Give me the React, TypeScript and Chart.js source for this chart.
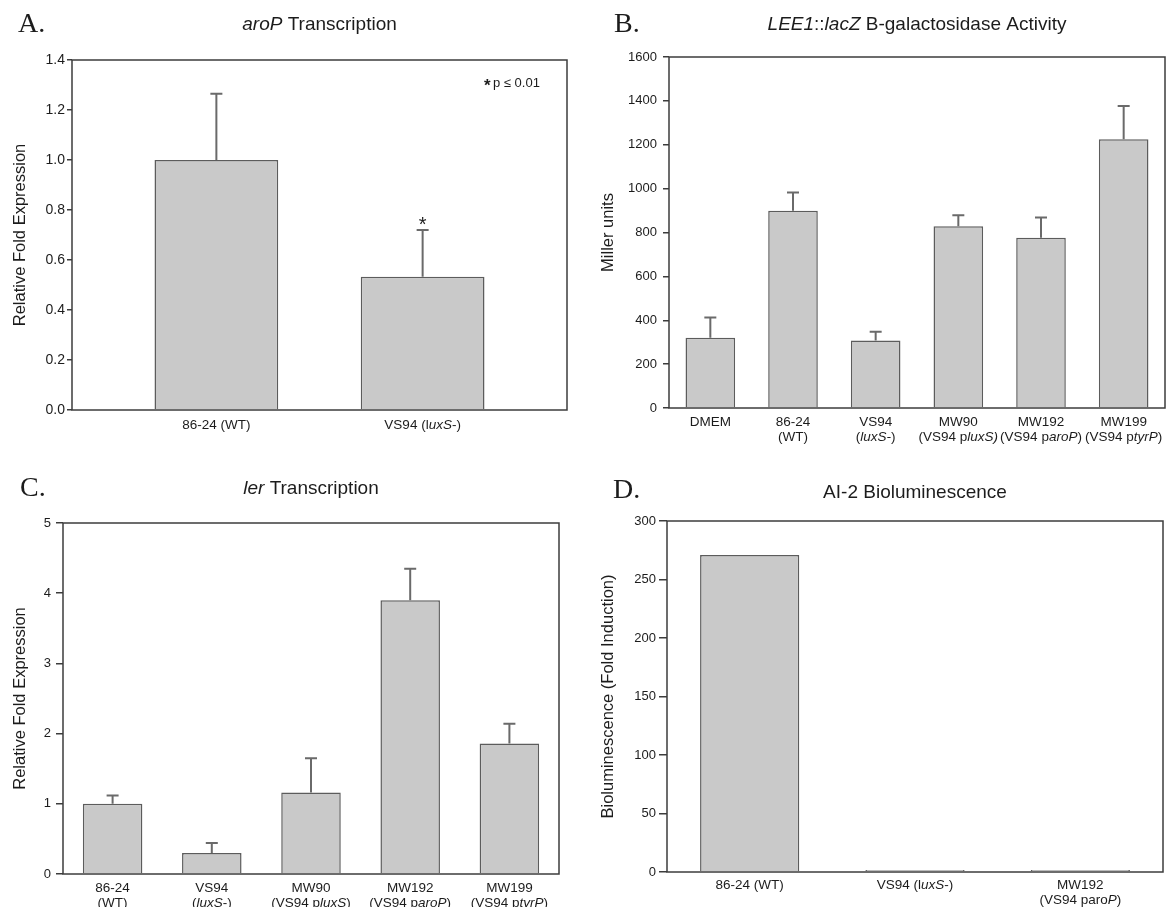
import React, { useEffect, useRef } from 'react';
import { Chart, registerables } from 'chart.js';

Chart.register(...registerables);

// ---------------- DATA ----------------
// Panel A: aroP Transcription
const aCategories = [['86-24 (WT)'], ['VS94 (l<i>uxS</i>-)']];
const aValues = [1.0, 0.533];
const aErrors = [0.265, 0.187];
const aYTicks = [0, 0.2, 0.4, 0.6, 0.8, 1.0, 1.2, 1.4];
const aYTickLabels = ['0.0', '0.2', '0.4', '0.6', '0.8', '1.0', '1.2', '1.4'];

// Panel B: LEE1::lacZ B-galactosidase Activity
const bCategories = [
  ['DMEM'],
  ['86-24', '(WT)'],
  ['VS94', '(<i>luxS-</i>)'],
  ['MW90', '(VS94 p<i>luxS)</i>'],
  ['MW192', '(VS94 p<i>aroP</i>)'],
  ['MW199', '(VS94 p<i>tyrP</i>)'],
];
const bValues = [320, 899, 308, 829, 776, 1225];
const bErrors = [93, 83, 40, 50, 92, 152];
const bYTicks = [0, 200, 400, 600, 800, 1000, 1200, 1400, 1600];
const bYTickLabels = ['0', '200', '400', '600', '800', '1000', '1200', '1400', '1600'];

// Panel C: ler Transcription
const cCategories = [
  ['86-24', '(WT)'],
  ['VS94', '(<i>luxS</i>-)'],
  ['MW90', '(VS94 p<i>luxS</i>)'],
  ['MW192', '(VS94 p<i>aroP</i>)'],
  ['MW199', '(VS94 p<i>tyrP</i>)'],
];
const cValues = [1.0, 0.3, 1.16, 3.9, 1.86];
const cErrors = [0.12, 0.14, 0.49, 0.45, 0.28];
const cYTicks = [0, 1, 2, 3, 4, 5];
const cYTickLabels = ['0', '1', '2', '3', '4', '5'];

// Panel D: AI-2 Bioluminescence
const dCategories = [['86-24 (WT)'], ['VS94 (l<i>uxS</i>-)'], ['MW192', '(VS94 paro<i>P</i>)']];
const dValues = [271, 1.8, 1.8];
const dErrors = [0, 0, 0];
const dYTicks = [0, 50, 100, 150, 200, 250, 300];
const dYTickLabels = ['0', '50', '100', '150', '200', '250', '300'];

// ---------------- STYLE ----------------
const SANS = '"Liberation Sans", Arial, Helvetica, sans-serif';
const SERIF = '"Liberation Serif", "Times New Roman", serif';
const TEXT = '#1c1c1c';
const FRAME = '#3c3c3c';
const BAR_FILL = '#c9c9c9';
const BAR_BORDER = '#5c5c5c';
const ERR = '#6a6a6a';

type Rich = { t: string; i: boolean };

function parseRich(s: string): Rich[] {
  const parts: Rich[] = [];
  const re = /<i>(.*?)<\/i>/g;
  let last = 0;
  let m: RegExpExecArray | null;
  while ((m = re.exec(s))) {
    if (m.index > last) parts.push({ t: s.slice(last, m.index), i: false });
    parts.push({ t: m[1], i: true });
    last = re.lastIndex;
  }
  if (last < s.length) parts.push({ t: s.slice(last), i: false });
  return parts;
}

function drawRich(ctx: CanvasRenderingContext2D, s: string, x: number, y: number, size: number, align = 'center') {
  const parts = parseRich(s);
  const fontFor = (it: boolean) => `${it ? 'italic ' : ''}${size}px ${SANS}`;
  let total = 0;
  for (const p of parts) {
    ctx.font = fontFor(p.i);
    total += ctx.measureText(p.t).width;
  }
  let cx = align === 'center' ? x - total / 2 : align === 'right' ? x - total : x;
  ctx.textAlign = 'left';
  for (const p of parts) {
    ctx.font = fontFor(p.i);
    ctx.fillText(p.t, cx, y);
    cx += ctx.measureText(p.t).width;
  }
}

type Spec = {
  left: number;
  top: number;
  width: number;
  height: number;
  area: { left: number; top: number; right: number; bottom: number };
  letter: string;
  letterX: number;
  letterY: number;
  title: string;
  titleY: number;
  yTitle: string;
  yTitleX: number;
  categories: string[][];
  values: number[];
  errors: number[];
  yTicks: number[];
  yTickLabels: string[];
  xPad: number;
  tickLength: number;
  tickPadding: number;
  tickFont: number;
  labelOffset: number;
  lineGap: number;
  extra?: (chart: any, spec: Spec) => void;
};

const drawSignificance = (chart: any, spec: Spec) => {
  const ctx: CanvasRenderingContext2D = chart.ctx;
  const xs = chart.scales.x;
  const ys = chart.scales.y;
  const a = chart.chartArea;
  ctx.save();
  ctx.fillStyle = TEXT;
  ctx.textBaseline = 'alphabetic';
  ctx.textAlign = 'center';
  // asterisk above the second bar
  const x = xs.getPixelForValue(1);
  const yTop = ys.getPixelForValue(spec.values[1] + spec.errors[1]);
  ctx.font = `20px ${SANS}`;
  ctx.fillText('*', x, yTop + 1);
  // significance note
  ctx.textAlign = 'left';
  ctx.font = `bold 17px ${SANS}`;
  ctx.fillText('*', a.right - 83, a.top + 31);
  ctx.font = `13px ${SANS}`;
  ctx.fillText('p \u2264 0.01', a.right - 74, a.top + 27);
  ctx.restore();
};

const specs: Spec[] = [
  {
    left: 0, top: 0, width: 580, height: 450,
    area: { left: 72, top: 60, right: 567, bottom: 410 },
    letter: 'A.', letterX: 18, letterY: 25,
    title: '<i>aroP</i> Transcription', titleY: 25,
    yTitle: 'Relative Fold Expression', yTitleX: 20,
    categories: aCategories, values: aValues, errors: aErrors,
    yTicks: aYTicks, yTickLabels: aYTickLabels,
    xPad: 0.7, tickLength: 5, tickPadding: 2, tickFont: 14, labelOffset: 15, lineGap: 15,
    extra: drawSignificance,
  },
  {
    left: 580, top: 0, width: 587, height: 450,
    area: { left: 89, top: 57, right: 585, bottom: 408 },
    letter: 'B.', letterX: 34, letterY: 25,
    title: '<i>LEE1</i>::<i>lacZ</i> B-galactosidase Activity', titleY: 25,
    yTitle: 'Miller units', yTitleX: 28,
    categories: bCategories, values: bValues, errors: bErrors,
    yTicks: bYTicks, yTickLabels: bYTickLabels,
    xPad: 0.5, tickLength: 6, tickPadding: 6, tickFont: 13, labelOffset: 14, lineGap: 15,
  },
  {
    left: 0, top: 450, width: 580, height: 457,
    area: { left: 63, top: 73, right: 559, bottom: 424 },
    letter: 'C.', letterX: 20, letterY: 39,
    title: '<i>ler</i> Transcription', titleY: 39,
    yTitle: 'Relative Fold Expression', yTitleX: 20,
    categories: cCategories, values: cValues, errors: cErrors,
    yTicks: cYTicks, yTickLabels: cYTickLabels,
    xPad: 0.5, tickLength: 7, tickPadding: 5, tickFont: 13, labelOffset: 14, lineGap: 15,
  },
  {
    left: 580, top: 450, width: 587, height: 457,
    area: { left: 87, top: 71, right: 583, bottom: 422 },
    letter: 'D.', letterX: 33, letterY: 41,
    title: 'AI-2 Bioluminescence', titleY: 43,
    yTitle: 'Bioluminescence (Fold Induction)', yTitleX: 28,
    categories: dCategories, values: dValues, errors: dErrors,
    yTicks: dYTicks, yTickLabels: dYTickLabels,
    xPad: 0.5, tickLength: 8, tickPadding: 3, tickFont: 13, labelOffset: 13, lineGap: 15,
  },
];

function Panel({ spec }: { spec: Spec }) {
  const ref = useRef<HTMLCanvasElement>(null);
  useEffect(() => {
    const canvas = ref.current;
    if (!canvas) return;
    const s = spec;
    const overlay = {
      id: 'overlay',
      afterDatasetsDraw(chart: any) {
        const ctx: CanvasRenderingContext2D = chart.ctx;
        const xs = chart.scales.x;
        const ys = chart.scales.y;
        ctx.save();
        ctx.strokeStyle = ERR;
        ctx.lineWidth = 2;
        s.values.forEach((v, i) => {
          const e = s.errors[i];
          if (!e) return;
          const x = xs.getPixelForValue(i);
          const y0 = ys.getPixelForValue(v);
          const y1 = ys.getPixelForValue(v + e);
          ctx.beginPath();
          ctx.moveTo(x, y0);
          ctx.lineTo(x, y1);
          ctx.moveTo(x - 6, y1);
          ctx.lineTo(x + 6, y1);
          ctx.stroke();
        });
        ctx.restore();
        const a = chart.chartArea;
        ctx.save();
        ctx.strokeStyle = FRAME;
        ctx.lineWidth = 1.5;
        ctx.strokeRect(a.left, a.top, a.right - a.left, a.bottom - a.top);
        ctx.restore();
      },
      afterDraw(chart: any) {
        const ctx: CanvasRenderingContext2D = chart.ctx;
        const a = chart.chartArea;
        const xs = chart.scales.x;
        ctx.save();
        ctx.fillStyle = TEXT;
        ctx.textBaseline = 'middle';
        // panel letter
        ctx.textAlign = 'left';
        ctx.font = `28px ${SERIF}`;
        ctx.fillText(s.letter, s.letterX, s.letterY);
        // title
        drawRich(ctx, s.title, (a.left + a.right) / 2, s.titleY, 19, 'center');
        // y title
        ctx.save();
        ctx.translate(s.yTitleX, (a.top + a.bottom) / 2);
        ctx.rotate(-Math.PI / 2);
        drawRich(ctx, s.yTitle, 0, 0, 16.5, 'center');
        ctx.restore();
        // x category labels
        s.categories.forEach((lines, i) => {
          const x = xs.getPixelForValue(i);
          lines.forEach((ln, j) => {
            drawRich(ctx, ln, x, a.bottom + s.labelOffset + j * s.lineGap, 13.5, 'center');
          });
        });
        ctx.restore();
        if (s.extra) s.extra(chart, s);
      },
    };
    const n = s.categories.length;
    const chart = new Chart(canvas, {
      type: 'bar',
      data: {
        datasets: [
          {
            data: s.values.map((v, i) => ({ x: i, y: v })),
            backgroundColor: BAR_FILL,
            borderColor: BAR_BORDER,
            borderWidth: 1.5,
            categoryPercentage: 1,
            barPercentage: 0.6,
          } as any,
        ],
      },
      options: {
        responsive: false,
        animation: false,
        devicePixelRatio: 1,
        events: [],
        layout: {
          padding: {
            left: 0,
            top: s.area.top,
            right: s.width - s.area.right,
            bottom: s.height - s.area.bottom,
          },
        },
        plugins: { legend: { display: false }, tooltip: { enabled: false }, title: { display: false } },
        scales: {
          x: {
            type: 'linear',
            display: false,
            offset: false,
            min: -s.xPad,
            max: n - 1 + s.xPad,
            afterBuildTicks: (scale: any) => {
              scale.ticks = s.categories.map((_, i) => ({ value: i }));
            },
          },
          y: {
            type: 'linear',
            min: s.yTicks[0],
            max: s.yTicks[s.yTicks.length - 1],
            afterBuildTicks: (scale: any) => {
              scale.ticks = s.yTicks.map((v) => ({ value: v }));
            },
            afterFit: (scale: any) => {
              scale.width = s.area.left;
            },
            ticks: {
              font: { family: SANS, size: s.tickFont },
              color: TEXT,
              padding: s.tickPadding,
              callback: (_v: any, idx: number) => s.yTickLabels[idx],
            },
            grid: {
              display: true,
              drawOnChartArea: false,
              drawTicks: true,
              tickLength: s.tickLength,
              color: FRAME,
              lineWidth: 1.5,
            },
            border: { display: false },
          },
        },
      } as any,
      plugins: [overlay],
    });
    return () => chart.destroy();
  }, [spec]);
  return (
    <div style={{ position: 'absolute', left: spec.left, top: spec.top, width: spec.width, height: spec.height }}>
      <canvas ref={ref} width={spec.width} height={spec.height} style={{ width: spec.width, height: spec.height, display: 'block' }} />
    </div>
  );
}

export default function App() {
  return (
    <div style={{ position: 'absolute', left: 0, top: 0, width: 1167, height: 907, background: '#ffffff', overflow: 'hidden' }}>
      {specs.map((s, i) => (
        <Panel key={i} spec={s} />
      ))}
    </div>
  );
}
